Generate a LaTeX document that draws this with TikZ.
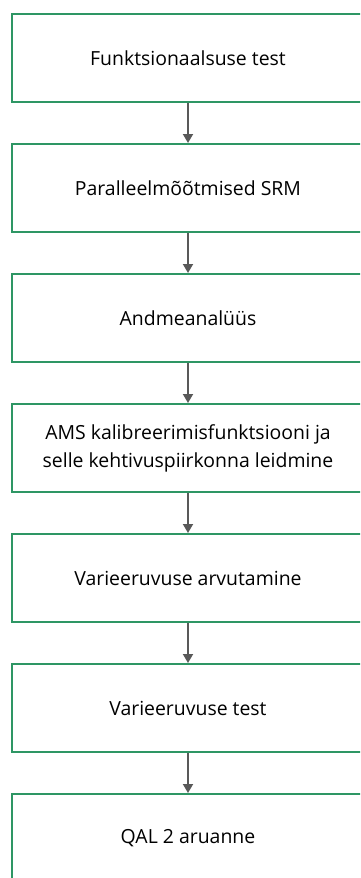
\documentclass[tikz,border=0pt]{standalone}
\usepackage{fontspec}
\setmainfont{Open Sans}
\usepackage{tikz}
\usetikzlibrary{positioning,arrows.meta}
\definecolor{boxgreen}{RGB}{46,150,100}
\definecolor{arrowgray}{RGB}{89,89,89}

\begin{document}
\begin{tikzpicture}[x=1bp, y=1bp,
    box/.style={draw=boxgreen, line width=2bp, fill=white, minimum width=352bp, minimum height=88bp, inner sep=0pt, align=center, font=\fontsize{19.5}{28}\selectfont},
    arr/.style={draw=arrowgray, line width=1.8bp, -{Triangle[length=9bp,width=10bp]}}]
    \clip (0,0) rectangle (360,-878);
    \node[box] (b1) at (188,-58) {Funktsionaalsuse test};
    \node[box, below=40bp of b1] (b2) {Paralleelmõõtmised SRM};
    \node[box, below=40bp of b2] (b3) {Andmeanalüüs};
    \node[box, below=40bp of b3] (b4) {AMS kalibreerimisfunktsiooni ja\\selle kehtivuspiirkonna leidmine};
    \node[box, below=40bp of b4] (b5) {Varieeruvuse arvutamine};
    \node[box, below=40bp of b5] (b6) {Varieeruvuse test};
    \node[box, below=40bp of b6] (b7) {QAL 2 aruanne};
    \foreach \i/\j in {1/2,2/3,3/4,4/5,5/6,6/7}
        \draw[arr] (b\i) -- (b\j);
\end{tikzpicture}
\end{document}
